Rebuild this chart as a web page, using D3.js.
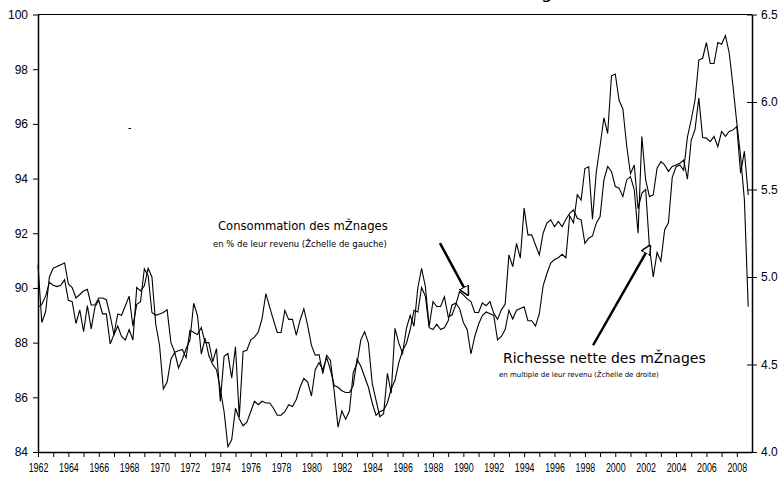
<!DOCTYPE html>
<meta charset="utf-8">
<style>
    body { margin: 0; background: #fff; }
    svg { display: block; }
    .axis text { font-family: 'Liberation Sans', Arial, sans-serif; font-size: 12px; fill: #000; }
    .axis line, .axis path { stroke: #000; }
    .note { font-family: 'DejaVu Sans', Verdana, sans-serif; fill: #000; }
</style>
<svg width="779" height="480"></svg>
<script src="https://d3js.org/d3.v7.min.js"></script>
<script>
    // quarterly data, first point = 1962 Q1
    var firstYear = 1962;

    // consommation des ménages, % du revenu (échelle de gauche)
    var consumption = [
        89.3, 89.4, 89.7, 90.2,   90.1, 90.05, 90.1, 90.3,   89.55, 89.5, 88.7, 89.2,
        88.4, 89.35, 88.5, 89.3,  89.55, 89.05, 89.05, 87.95, 88.3, 89.05, 89.0, 89.35,
        89.7, 88.6, 89.4, 89.5,   90.7, 90.45, 89.1, 89.0,   89.05, 89.1, 89.2, 88.0,
        87.65, 87.7, 87.75, 87.45, 88.45, 88.37, 88.3, 88.55, 88.0, 88.0, 87.3, 87.78,
        85.85, 87.5, 87.6, 86.7,  87.85, 85.28, 87.68, 87.72, 88.09, 88.2, 88.39, 88.88,
        89.79, 89.3, 88.82, 88.37, 88.37, 89.18, 88.85, 88.85, 88.27, 88.82, 89.24, 88.63,
        87.9, 87.54, 87.56, 86.87, 87.54, 87.35, 86.2, 84.91, 85.5, 85.2, 85.5, 86.9,
        87.24, 88.1, 88.4, 87.98, 86.51, 85.9, 85.29, 85.4, 86.88, 86.15, 88.52, 87.98,
        87.61, 88.52, 89.0, 88.6,  89.99, 90.72, 90.05, 88.6, 89.5, 89.32, 89.32, 89.68,
        88.95, 89.01, 89.38, 89.87, 89.75, 89.6, 89.5, 89.1, 89.1, 89.45, 89.35, 89.5,
        89.07, 88.85, 89.2, 89.4,  91.21, 90.78, 91.63, 91.09, 92.92, 91.94, 91.94, 91.57,
        91.21, 92.0, 92.37, 92.49, 92.24, 92.43, 92.24, 92.51, 92.73, 92.85, 92.55, 92.49,
        91.63, 91.82, 91.9, 92.37, 92.61, 93.95, 94.44, 94.26, 93.71, 93.65, 93.34, 93.95,
        94.07, 93.59, 92.0, 95.54, 93.95, 93.34, 93.4, 94.38, 94.62, 94.5, 94.26, 94.44,
        94.5, 94.56, 94.68, 93.98, 95.4, 95.8, 96.94, 95.5,  95.48, 95.35, 95.54, 95.17,
        95.72, 95.54, 95.72, 95.78, 95.9, 94.2, 95.0, 93.4
    ];

    // richesse nette des ménages, multiple du revenu (échelle de droite)
    var wealth = [
        5.07, 4.74, 4.80, 5.00,  5.05, 5.06, 5.07, 5.08,  4.96, 4.94, 4.88, 4.90,
        4.92, 4.93, 4.84, 4.84,  4.88, 4.88, 4.87, 4.78,  4.67, 4.72, 4.66, 4.64,
        4.70, 4.64, 4.94, 4.92,  4.95, 5.05, 5.00, 4.73,  4.61, 4.36, 4.40, 4.53,
        4.57, 4.48, 4.53, 4.59,  4.64, 4.85, 4.78, 4.56,  4.65, 4.55, 4.50, 4.47,
        4.36, 4.23, 4.03, 4.07,  4.25, 4.19, 4.15, 4.17,  4.23, 4.29, 4.27, 4.29,
        4.28, 4.28, 4.25, 4.21,  4.21, 4.23, 4.27, 4.26,  4.30, 4.37, 4.42, 4.40,
        4.32, 4.47, 4.51, 4.47,  4.54, 4.47, 4.38, 4.37,  4.35, 4.34, 4.34, 4.38,
        4.53, 4.49, 4.43, 4.37,  4.28, 4.21, 4.23, 4.24,  4.28, 4.36, 4.41, 4.51,
        4.58, 4.62, 4.70, 4.81,  4.80, 4.94, 4.89, 4.71,  4.70, 4.73, 4.70, 4.71,
        4.75, 4.84, 4.85, 4.82,  4.74, 4.70, 4.56, 4.66,  4.73, 4.78, 4.80, 4.79,
        4.78, 4.64, 4.66, 4.70,  4.81, 4.76, 4.81, 4.82,  4.83, 4.75, 4.75, 4.72,
        4.79, 4.95, 5.02, 5.08,  5.10, 5.11, 5.13, 5.11,  5.35, 5.31, 5.47, 5.44,
        5.62, 5.63, 5.33, 5.60,  5.75, 5.91, 5.82, 6.15,  6.16, 6.01, 5.96, 5.75,
        5.59, 5.64, 5.39, 5.48,  5.50, 5.17, 5.00, 5.14,  5.09, 5.27, 5.31, 5.57,
        5.63, 5.64, 5.61, 5.80,  5.90, 6.01, 6.24, 6.25,  6.34, 6.22, 6.22, 6.34,
        6.33, 6.38, 6.28, 6.09,  5.88, 5.69, 5.44, 4.83
    ];

    var leftTicks = [84, 86, 88, 90, 92, 94, 96, 98, 100];
    var rightTicks = [4.0, 4.5, 5.0, 5.5, 6.0, 6.5];
    var yearLabels = [1962, 1964, 1966, 1968, 1970, 1972, 1974, 1976, 1978, 1980, 1982, 1984,
        1986, 1988, 1990, 1992, 1994, 1996, 1998, 2000, 2002, 2004, 2006, 2008];

    var svg = d3.select("svg"),
        plotLeft = 38, plotRight = 752, plotTop = 14.5, plotBottom = 452;

    var x = d3.scaleLinear().domain([1962, 2009]).range([plotLeft, plotRight]);
    var yL = d3.scaleLinear().domain([84, 100]).range([plotBottom, plotTop]);
    var yR = d3.scaleLinear().domain([4, 6.5]).range([plotBottom, plotTop]);

    // cut-off title at the very top
    svg.append("text")
        .attr("class", "note")
        .attr("x", 573).attr("y", -2)
        .attr("text-anchor", "end")
        .style("font-size", "18px")
        .text("Consommation et richesse des mŽnages");

    // top border
    svg.append("line")
        .attr("x1", plotLeft).attr("x2", plotRight)
        .attr("y1", plotTop).attr("y2", plotTop)
        .attr("stroke", "#000").attr("stroke-width", 1);

    // x axis
    var years = d3.range(1962, 2009);
    var gx = svg.append("g")
        .attr("class", "axis")
        .attr("transform", "translate(0," + plotBottom + ")")
        .call(d3.axisBottom(x).tickValues(years).tickSize(5).tickSizeOuter(0).tickPadding(6)
            .tickFormat(function(d) { return yearLabels.indexOf(d) >= 0 ? d : ""; }));
    gx.select(".domain").attr("stroke-width", 1.5);
    gx.selectAll("text").attr("transform", "scale(0.74,1)").style("font-size", "12px");

    // left axis
    var gl = svg.append("g")
        .attr("class", "axis")
        .attr("transform", "translate(" + plotLeft + ",0)")
        .call(d3.axisLeft(yL).tickValues(leftTicks).tickSize(5).tickSizeOuter(0).tickPadding(5));
    gl.select(".domain").attr("stroke-width", 1.5);

    // right axis
    var gr = svg.append("g")
        .attr("class", "axis")
        .attr("transform", "translate(" + plotRight + ",0)")
        .call(d3.axisRight(yR).tickValues(rightTicks).tickSize(5).tickSizeOuter(0).tickPadding(4)
            .tickFormat(d3.format(".1f")));
    gr.select(".domain").attr("stroke-width", 1.5);
    gr.selectAll(".tick line").attr("x1", -5);

    // series
    var lineC = d3.line()
        .x(function(d, i) { return x(firstYear + i / 4); })
        .y(function(d) { return yL(d); });
    var lineW = d3.line()
        .x(function(d, i) { return x(firstYear + i / 4); })
        .y(function(d) { return yR(d); });

    svg.append("path").datum(consumption)
        .attr("d", lineC)
        .attr("fill", "none").attr("stroke", "#000").attr("stroke-width", 1.1);
    svg.append("path").datum(wealth)
        .attr("d", lineW)
        .attr("fill", "none").attr("stroke", "#000").attr("stroke-width", 1.1);

    // stray mark
    svg.append("line")
        .attr("x1", 128.5).attr("x2", 131).attr("y1", 128.5).attr("y2", 128.5)
        .attr("stroke", "#000").attr("stroke-width", 1);

    // arrows
    var defs = svg.append("defs");
    defs.append("marker")
        .attr("id", "head")
        .attr("viewBox", "0 0 10 10")
        .attr("refX", 9).attr("refY", 5)
        .attr("markerWidth", 4).attr("markerHeight", 4)
        .attr("orient", "auto")
        .append("path")
        .attr("d", "M0,0 L10,5 L0,10 z")
        .attr("fill", "#fff").attr("stroke", "#000").attr("stroke-width", 1.5);

    svg.append("line")
        .attr("x1", x(1988.46)).attr("y1", yL(91.64))
        .attr("x2", x(1990.31)).attr("y2", yL(89.74))
        .attr("stroke", "#000").attr("stroke-width", 2.5)
        .attr("marker-end", "url(#head)");

    svg.append("line")
        .attr("x1", x(1998.54)).attr("y1", yR(4.61))
        .attr("x2", x(2002.29)).attr("y2", yR(5.18))
        .attr("stroke", "#000").attr("stroke-width", 2.5)
        .attr("marker-end", "url(#head)");

    // labels
    svg.append("text").attr("class", "note")
        .attr("x", 218).attr("y", 230)
        .style("font-size", "11.6px")
        .text("Consommation des mŽnages");
    svg.append("text").attr("class", "note")
        .attr("x", 213).attr("y", 247)
        .style("font-size", "8.5px")
        .text("en % de leur revenu (Žchelle de gauche)");

    svg.append("text").attr("class", "note")
        .attr("x", 503).attr("y", 363)
        .style("font-size", "14px")
        .text("Richesse nette des mŽnages");
    svg.append("text").attr("class", "note")
        .attr("x", 499).attr("y", 377)
        .style("font-size", "7px")
        .text("en multiple de leur revenu (Žchelle de droite)");
</script>
